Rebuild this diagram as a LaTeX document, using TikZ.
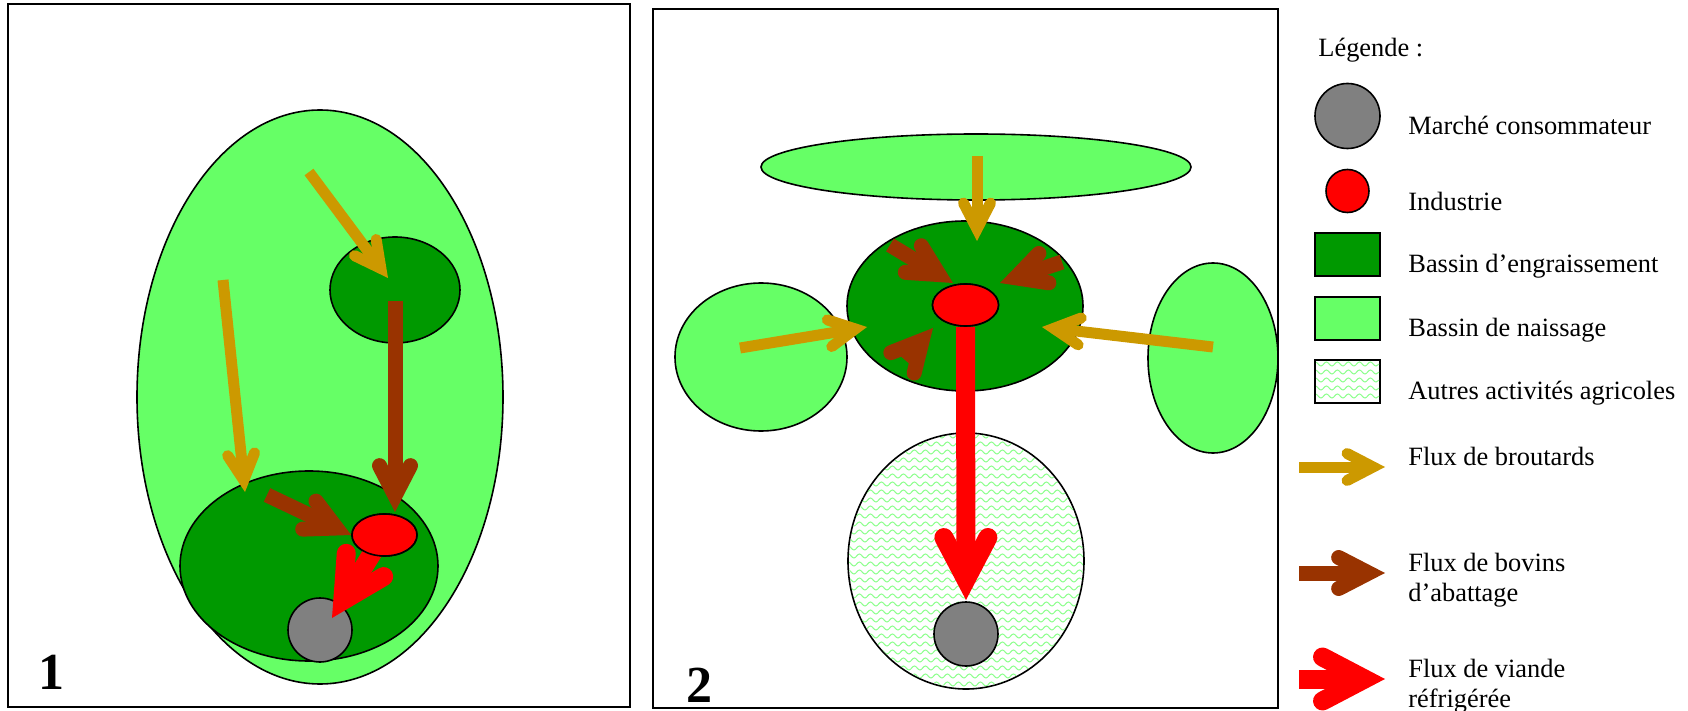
\documentclass[tikz,border=0pt]{standalone}
\usepackage{fontspec}
\setmainfont{Liberation Serif}
\usepackage{tikz}
\usetikzlibrary{shapes.geometric, arrows.meta, decorations.pathmorphing}
\definecolor{naissgreen}{RGB}{102,255,102}
\definecolor{engrgreen}{RGB}{0,153,0}
\definecolor{indred}{RGB}{255,0,0}
\definecolor{mktgray}{RGB}{128,128,128}
\definecolor{broutgold}{RGB}{204,153,0}
\definecolor{bovinbrown}{RGB}{153,51,0}
\definecolor{wavegreen}{RGB}{140,255,140}

\begin{document}
\begin{tikzpicture}[
  x=0.5pt, y=-0.5pt,
  zone/.style={ellipse, draw=black, line width=0.8pt, inner sep=0pt, fill=#1},
  legbox/.style={rectangle, draw=black, line width=1pt, inner sep=0pt, minimum width=32.5pt, minimum height=21.5pt, fill=#1},
  legtext/.style={anchor=base west, inner sep=0pt, align=left, font=\fontsize{13.2}{15}\selectfont},
  panelnum/.style={anchor=base west, inner sep=0pt, font=\fontsize{26}{26}\selectfont\bfseries},
  panelframe/.style={draw=black, line width=1pt},
  broutard/.style={draw=broutgold, line width=5.5pt, -{Straight Barb[length=13pt, width=13.5pt, line cap=round, line join=miter]}},
  bovin/.style={draw=bovinbrown, line width=7.5pt, -{Straight Barb[length=15pt, width=15.5pt, line cap=round, line join=miter]}},
  viande/.style={draw=indred, line width=9.5pt, -{Straight Barb[length=21pt, width=22pt, line cap=round, line join=miter]}},
  wave/.style={draw=wavegreen, line width=0.5pt, decorate, decoration={snake, amplitude=1pt, segment length=5.5pt}}
]
\useasboundingbox (0,0) rectangle (1688,711);

% Panel 1
\draw[panelframe] (8,4) rectangle (630,707);
\node[zone=naissgreen, minimum width=183pt, minimum height=287pt] (naiss1) at (320,397) {};
\node[zone=engrgreen, minimum width=129pt, minimum height=95pt] (engr1a) at (309,566) {};
\node[zone=engrgreen, minimum width=65pt, minimum height=53pt] (engr1b) at (395,290) {};
\node[zone=mktgray, minimum size=32pt] (mkt1) at (320,630) {};
\node[panelnum] (num1) at (38,689) {1};

\coordinate (g1from) at (309,172);
\coordinate (g1to) at (388,278);
\coordinate (g2from) at (223,280);
\coordinate (g2to) at (245,492);
\coordinate (b1from) at (395,301);
\coordinate (b1to) at (395,512);
\coordinate (b2from) at (267,495);
\coordinate (v1from) at (373,552);
\coordinate (v1to) at (332,618);

\draw[broutard] (g1from) -- (g1to);
\draw[broutard] (g2from) -- (g2to);
\draw[bovin] (b1from) -- (b1to);
\node[zone=indred, minimum width=32.5pt, minimum height=21pt] (ind1) at (384.5,535) {};
\draw[bovin] (b2from) -- (ind1.west);
\draw[viande] (v1from) -- (v1to);
\node[zone=indred, minimum width=32.5pt, minimum height=21pt] at (ind1) {};

% Panel 2
\draw[panelframe] (653,9) rectangle (1278,708);
\node[zone=naissgreen, minimum width=215pt, minimum height=33pt] (naisstop) at (976,167) {};
\node[zone=naissgreen, minimum width=86pt, minimum height=74pt] (naissleft) at (761,357) {};
\node[zone=naissgreen, minimum width=65pt, minimum height=95pt] (naissright) at (1213,358) {};
\node[zone=engrgreen, minimum width=118pt, minimum height=85pt] (engr2) at (965,306) {};
\node[zone=white, minimum width=118pt, minimum height=128pt] (autres) at (966,561) {};
\begin{scope}
  \clip (autres.center) ellipse [x radius=117, y radius=127];
  \foreach \y in {436,444,...,688}
    \draw[wave] (845,\y) -- (1090,\y);
\end{scope}
\node[zone=mktgray, minimum size=32pt] (mkt2) at (966,634) {};
\node[panelnum] (num2) at (686,702) {2};

\coordinate (g3from) at (977,156);
\coordinate (g3to) at (977,241);
\coordinate (g4from) at (740,348);
\coordinate (g4to) at (867,327);
\coordinate (g5from) at (1213,347);
\coordinate (g5to) at (1042,327);
\coordinate (b3from) at (890,245);
\coordinate (b3to) at (953,283);
\coordinate (b4from) at (1062,262);
\coordinate (b4to) at (1000,283);
\coordinate (b5from) at (905,360);
\coordinate (b5to) at (933,328);
\coordinate (v2to) at (966,600);

\draw[broutard] (g3from) -- (g3to);
\draw[broutard] (g4from) -- (g4to);
\draw[broutard] (g5from) -- (g5to);
\draw[bovin] (b3from) -- (b3to);
\draw[bovin] (b4from) -- (b4to);
\draw[bovin] (b5from) -- (b5to);
\node[zone=indred, minimum width=33pt, minimum height=21pt] (ind2) at (965.5,305) {};
\draw[viande] (ind2.south) -- (v2to);
\node[zone=indred, minimum width=33pt, minimum height=21pt] at (ind2) {};

% Legend
\node[legtext] (legtitle) at (1318,57) {Légende :};
\node[zone=mktgray, minimum size=32.5pt] (legmkt) at (1347.5,116) {};
\node[legtext] (txtmkt) at (1408,135) {Marché consommateur};
\node[zone=indred, minimum size=21.5pt] (legind) at (1347.5,191) {};
\node[legtext] (txtind) at (1408,211) {Industrie};
\node[legbox=engrgreen] (legengr) at (1347.5,254.5) {};
\node[legtext] (txtengr) at (1408,273) {Bassin d’engraissement};
\node[legbox=naissgreen] (legnaiss) at (1347.5,318.5) {};
\node[legtext] (txtnaiss) at (1408,337) {Bassin de naissage};
\node[legbox=white] (legautres) at (1347.5,382) {};
\begin{scope}
  \clip (1316,361) rectangle (1379,403);
  \foreach \y in {364,372,...,400}
    \draw[wave] (1312,\y) -- (1384,\y);
\end{scope}
\node[legtext] (txtautres) at (1408,400) {Autres activités agricoles};

\coordinate (lbfrom) at (1299,467);
\coordinate (lbto) at (1385,467);
\coordinate (lvfrom) at (1299,573);
\coordinate (lvto) at (1385,573);
\coordinate (lrfrom) at (1299,679);
\coordinate (lrto) at (1385,679);
\draw[broutard] (lbfrom) -- (lbto);
\node[legtext] (txtbrout) at (1408,466) {Flux de broutards};
\draw[bovin] (lvfrom) -- (lvto);
\node[legtext] (txtbovin) at (1408,601) {Flux de bovins\\d’abattage};
\draw[viande] (lrfrom) -- (lrto);
\node[legtext] (txtviande) at (1408,707) {Flux de viande\\réfrigérée};

\end{tikzpicture}
\end{document}
